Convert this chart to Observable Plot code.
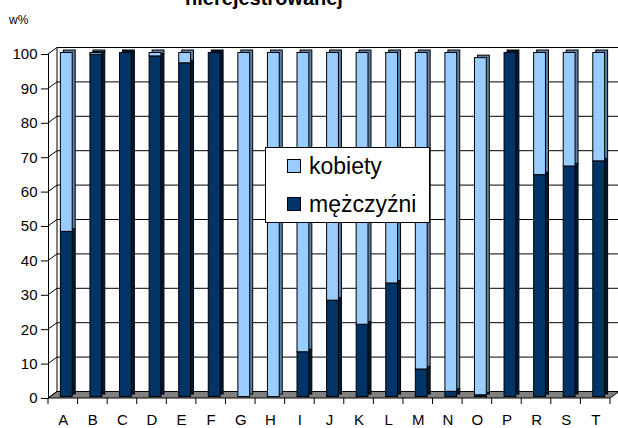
<!DOCTYPE html>
<html>
<head>
<meta charset="utf-8">
<script src="https://cdn.jsdelivr.net/npm/d3@7"></script>
<script src="https://cdn.jsdelivr.net/npm/@observablehq/plot@0.6"></script>
<style>
  html, body { margin: 0; padding: 0; background: #fff; }
  #wrap { position: relative; width: 618px; height: 428px; overflow: hidden; font-family: "Liberation Sans", Arial, sans-serif; }
  #title { position: absolute; left: 0; top: -12px; width: 528px; text-align: center; font-weight: bold; font-size: 20px; line-height: 20px; }
  #unit { position: absolute; left: 9px; top: 14px; font-size: 12px; line-height: 12px; }
  #legend { position: absolute; left: 265px; top: 147px; width: 163px; height: 74px; background: #fff; border: 1px solid #000; }
  .item { position: absolute; left: 21px; height: 26px; display: flex; align-items: center; font-size: 23px; }
  .sw { width: 12px; height: 12px; border: 1px solid #000; margin-right: 8px; }
  #chart svg { position: absolute; left: 0; top: 0; }
  #chart svg text { font-size: 15px !important; font-family: "Liberation Sans", Arial, sans-serif !important; fill: #000; }
</style>
</head>
<body>
<div id="wrap">
  <div id="title">nierejestrowanej</div>
  <div id="unit">w%</div>
  <div id="chart"></div>
  <div id="legend"></div>
</div>
<script>
const categories = ["A","B","C","D","E","F","G","H","I","J","K","L","M","N","O","P","R","S","T"];
const men   = [48, 99.5, 100, 99, 97, 100, 0, 0, 13, 28, 21, 33, 8, 1.5, 0.5, 100, 64.5, 67, 68.5];
const women = [52, 0.5, 0, 1, 3, 0, 100, 100, 87, 72, 79, 67, 92, 98.5, 98, 0, 35.5, 33, 31.5];
const seriesNames = ["kobiety", "mężczyźni"];
const yTicks = [0, 10, 20, 30, 40, 50, 60, 70, 80, 90, 100];

const frontColor = {"mężczyźni": "#003366", "kobiety": "#99CCFF"};
const sideColor  = {"mężczyźni": "#001a33", "kobiety": "#5f7fa6"};

const rows = categories.flatMap((c, i) => [
  {cat: c, sex: "mężczyźni", value: men[i]},
  {cat: c, sex: "kobiety", value: women[i]}
]);

const DX = 9, DY = -6.5;

function walls(index, scales, values, dims) {
  const x = scales.x, y = scales.y;
  const x0 = dims.marginLeft, x1 = dims.width - dims.marginRight;
  const g = d3.create("svg:g").attr("fill", "none").attr("stroke", "#000").attr("stroke-width", 1);
  const yb = y(0);
  g.append("polygon")
    .attr("points", [[x0, yb], [x1, yb], [x1 + DX, yb + DY], [x0 + DX, yb + DY]].map(p => p.join(",")).join(" "))
    .attr("fill", "#808080");
  for (const v of yTicks) {
    const yy = y(v);
    if (v > 0) g.append("line").attr("x1", x0 + DX).attr("x2", x1 + DX).attr("y1", yy + DY).attr("y2", yy + DY);
    g.append("line").attr("x1", x0).attr("x2", x0 + DX).attr("y1", yy).attr("y2", yy + DY);
  }
  g.append("line").attr("x1", x0 + DX).attr("x2", x0 + DX).attr("y1", y(0) + DY).attr("y2", y(100) + DY);
  const step = x.step ? x.step() : (x1 - x0) / categories.length;
  const bw = x.bandwidth ? x.bandwidth() : step * 0.4;
  const half = (step - bw) / 2;
  const bounds = categories.map(c => x(c) - half);
  bounds.push(x(categories[categories.length - 1]) + bw + half);
  for (const b of bounds) g.append("line").attr("x1", b).attr("x2", b).attr("y1", yb).attr("y2", yb + 6);
  return g.node();
}

const chart = Plot.plot({
  width: 618,
  height: 428,
  marginTop: 54,
  marginBottom: 30,
  marginLeft: 48,
  marginRight: 8,
  style: {fontFamily: "'Liberation Sans', Arial, sans-serif", fontSize: "15px", color: "#000", background: "transparent"},
  x: {domain: categories, paddingInner: 0.6, paddingOuter: 0.3, round: false, label: null},
  y: {domain: [0, 100], label: null},
  color: {type: "identity"},
  marks: [
    walls,
    Plot.barY(rows, {x: "cat", y: "value", fill: d => sideColor[d.sex], stroke: "#000", strokeWidth: 1, dx: 6.5, dy: -4}),
    Plot.barY(rows, {x: "cat", y: "value", fill: d => frontColor[d.sex], stroke: "#000", strokeWidth: 1, dx: 3.5, dy: -1.5}),
    Plot.frame({anchor: "left", stroke: "#000"}),
    Plot.axisY({ticks: yTicks, tickSize: 7, tickPadding: 4, label: null, stroke: "#000"}),
    Plot.axisX({tickSize: 0, tickPadding: 16, label: null})
  ]
});
document.getElementById("chart").appendChild(chart);

const legend = document.getElementById("legend");
seriesNames.forEach((name, i) => {
  const it = document.createElement("div");
  it.className = "item";
  it.style.top = (5 + i * 38) + "px";
  const sw = document.createElement("div");
  sw.className = "sw";
  sw.style.background = frontColor[name];
  const t = document.createElement("span");
  t.textContent = name;
  it.appendChild(sw);
  it.appendChild(t);
  legend.appendChild(it);
});
</script>
</body>
</html>
